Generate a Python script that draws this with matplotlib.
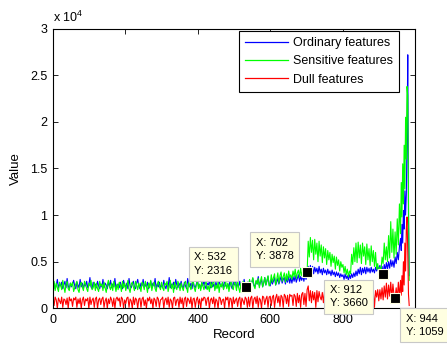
import numpy as np
import matplotlib
matplotlib.use("Agg")
import matplotlib.pyplot as plt
from matplotlib.ticker import FuncFormatter

plt.rcParams['font.family'] = ['Liberation Sans', 'DejaVu Sans']
plt.rcParams['mathtext.default'] = 'regular'

# record index: every 3rd record up to 957, then every 2nd record
records = list(range(0, 960, 3)) + list(range(960, 986, 2))

# values in units of 100 (rows of 60 records)
ordinary = (
    [23, 27, 21, 25, 31, 22, 26, 24, 28, 21, 25, 29, 22, 32, 24, 21, 27, 23, 26, 30]
    + [24, 21, 28, 25, 22, 31, 23, 27, 21, 26, 24, 29, 22, 25, 33, 23, 21, 28, 24, 26]
    + [22, 29, 24, 21, 26, 23, 31, 22, 27, 25, 21, 28, 24, 30, 22, 26, 23, 32, 21, 25]
    + [26, 22, 28, 24, 21, 30, 25, 23, 27, 21, 32, 24, 22, 26, 29, 23, 21, 27, 31, 24]
    + [21, 27, 24, 31, 22, 26, 23, 28, 21, 25, 29, 22, 27, 24, 32, 21, 26, 23, 28, 22]
    + [25, 22, 30, 24, 21, 27, 23, 33, 22, 26, 24, 28, 21, 31, 25, 22, 27, 24, 29, 23]
    + [22, 28, 24, 21, 32, 25, 23, 27, 21, 29, 24, 22, 26, 31, 23, 25, 21, 28, 24, 30]
    + [24, 21, 27, 25, 29, 22, 31, 23, 26, 21, 28, 24, 22, 30, 25, 23, 27, 21, 32, 24]
    + [23, 26, 22, 30, 24, 21, 28, 25, 33, 22, 26, 24, 29, 21, 27, 23, 31, 24, 22, 28]
    + [24, 30, 22, 27, 32, 25, 23, 29, 26, 34, 24, 28, 31, 23, 27, 33, 25, 29, 34, 26]
    + [24, 31, 26, 29, 33, 25, 28, 32, 26, 30, 34, 27, 31, 33, 26, 32, 28, 34, 27, 33]
    + [27, 34, 29, 35, 28, 32, 36, 29, 34, 30, 35, 29, 36, 31, 38, 45, 39, 46, 38, 45]
    + [37, 44, 39, 43, 37, 45, 38, 42, 36, 43, 38, 41, 36, 42, 37, 40, 35, 41, 36, 39]
    + [34, 39, 35, 38, 33, 37, 34, 36, 31, 37, 32, 35, 30, 36, 32, 37, 33, 38, 34, 40]
    + [35, 42, 37, 44, 36, 43, 38, 44, 37, 44, 39, 43, 38, 44, 39, 42, 38, 44, 40, 45]
    + [41, 46, 40, 45, 37, 47, 41, 49, 42, 50, 43, 52, 45, 51, 44, 55, 48, 60, 52, 66]
    + [75, 62, 90, 70, 105, 85, 126, 100, 122, 180, 272, 95, 35]
)
sensitive = (
    [24, 29, 19, 27, 22, 18, 28, 25, 20, 30, 23, 17, 26, 29, 21, 19, 27, 24, 28, 18]
    + [22, 26, 29, 20, 17, 25, 28, 23, 19, 29, 26, 21, 18, 27, 24, 30, 20, 22, 28, 19]
    + [27, 21, 18, 29, 24, 26, 19, 28, 22, 17, 25, 30, 23, 20, 27, 19, 29, 24, 18, 26]
    + [20, 28, 25, 18, 29, 22, 27, 19, 24, 30, 21, 17, 26, 28, 23, 19, 29, 25, 20, 27]
    + [23, 18, 28, 26, 20, 29, 24, 17, 27, 22, 30, 19, 25, 28, 21, 18, 26, 29, 23, 20]
    + [28, 22, 19, 27, 25, 29, 18, 24, 30, 21, 26, 17, 28, 23, 20, 29, 25, 19, 27, 22]
    + [19, 26, 29, 23, 17, 28, 24, 20, 27, 30, 22, 18, 25, 29, 21, 26, 19, 28, 24, 20]
    + [26, 29, 20, 24, 18, 28, 22, 27, 30, 19, 25, 21, 29, 17, 26, 23, 28, 20, 24, 29]
    + [21, 27, 18, 25, 29, 23, 20, 28, 26, 19, 30, 22, 17, 27, 24, 29, 21, 25, 19, 28]
    + [22, 31, 20, 28, 33, 24, 21, 30, 26, 32, 22, 29, 34, 23, 27, 33, 25, 30, 35, 24]
    + [26, 36, 28, 33, 37, 25, 31, 38, 27, 35, 39, 29, 34, 38, 28, 37, 30, 40, 33, 36]
    + [31, 40, 34, 42, 32, 38, 41, 33, 43, 35, 40, 34, 42, 36, 39, 72, 55, 76, 60, 73]
    + [52, 74, 58, 70, 50, 72, 56, 68, 49, 66, 54, 64, 47, 62, 52, 60, 45, 58, 49, 56]
    + [42, 55, 46, 52, 40, 50, 44, 47, 38, 45, 36, 42, 34, 40, 37, 58, 47, 65, 50, 70]
    + [49, 71, 54, 68, 48, 70, 56, 66, 47, 69, 52, 64, 46, 67, 50, 62, 45, 60, 42, 48]
    + [37, 44, 40, 55, 48, 70, 52, 66, 50, 78, 54, 93, 60, 85, 54, 82, 58, 96, 68, 112]
    + [80, 135, 98, 155, 112, 175, 128, 205, 160, 238, 228, 120, 30]
)
dull = (
    [10, 3, 12, 9, 0, 11, 8, 5, 12, 1, 10, 9, 4, 11, 0, 12, 8, 10, 2, 11]
    + [9, 12, 1, 10, 5, 11, 0, 9, 12, 3, 10, 8, 11, 0, 12, 4, 9, 11, 1, 10]
    + [12, 0, 9, 11, 4, 10, 12, 1, 8, 11, 0, 10, 5, 12, 9, 2, 11, 0, 10, 12]
    + [8, 11, 2, 12, 10, 0, 9, 5, 11, 12, 1, 10, 8, 0, 12, 4, 11, 9, 0, 10]
    + [11, 1, 10, 12, 3, 9, 0, 11, 8, 12, 5, 10, 0, 11, 9, 2, 12, 10, 1, 9]
    + [10, 12, 0, 9, 11, 4, 12, 1, 10, 8, 0, 11, 12, 3, 9, 10, 1, 12, 5, 11]
    + [0, 10, 12, 2, 11, 9, 5, 12, 0, 10, 11, 1, 9, 12, 4, 10, 0, 11, 8, 12]
    + [11, 3, 10, 12, 0, 9, 11, 5, 12, 1, 10, 8, 0, 12, 11, 4, 9, 10, 0, 12]
    + [9, 12, 1, 11, 10, 0, 12, 5, 9, 11, 2, 10, 12, 0, 11, 8, 4, 12, 10, 1]
    + [12, 2, 11, 13, 0, 10, 12, 5, 13, 1, 11, 9, 0, 13, 12, 4, 10, 13, 1, 12]
    + [13, 3, 12, 14, 1, 11, 15, 6, 13, 2, 14, 12, 1, 15, 13, 5, 14, 2, 15, 13]
    + [14, 3, 15, 13, 2, 16, 6, 14, 1, 15, 17, 4, 16, 2, 20, 24, 8, 19, 6, 18]
    + [9, 17, 1, 19, 7, 18, 12, 9, 17, 6, 18, 14, 8, 17, 5, 19, 11, 7, 18, 10]
    + [17, 6, 18, 13, 9, 19, 1, 16, 8, 18, 12, 7, 17, 5, 19, 14, 8, 18, 6, 17]
    + [12, 18, 7, 19, 5, 17, 13, 8, 19, 6, 18, 14, 7, 20, 9, 17, 1, 19, 12, 20]
    + [8, 20, 10, 22, 9, 24, 12, 27, 10, 25, 13, 28, 11, 26, 14, 11, 22, 10, 28, 12]
    + [30, 14, 35, 18, 50, 25, 70, 40, 85, 98, 60, 15, 3]
)

# data tips shown on the chart
tip_x = [532, 702, 912, 944]
tip_y = [2316, 3878, 3660, 1059]

fig = plt.figure(figsize=(4.47, 3.47), dpi=100)
ax = fig.add_axes([53 / 447, 1 - 308.3 / 347, (415 - 53) / 447, (308.3 - 28.7) / 347])

ax.plot(records, np.array(ordinary) * 100, color=(0, 0, 1), lw=0.8, label='Ordinary features')
ax.plot(records, np.array(sensitive) * 100, color=(0, 1, 0), lw=0.8, label='Sensitive features')
ax.plot(records, np.array(dull) * 100, color=(1, 0, 0), lw=0.8, label='Dull features')

ax.set_xlim(0, 1000)
ax.set_ylim(0, 30000)
ax.set_xticks(range(0, 1001, 200))
ax.set_xticklabels(['0', '200', '400', '600', '800', ''])
ax.set_yticks(range(0, 30001, 5000))
ax.yaxis.set_major_formatter(FuncFormatter(lambda v, p: f'{v / 1e4:g}'))
ax.tick_params(direction='in', top=True, right=True, length=3.5, width=0.6, labelsize=9, pad=4)
for s in ax.spines.values():
    s.set_linewidth(0.8)

ax.text(0.0, 1.012, r'x 10$^{4}$', transform=ax.transAxes, fontsize=9, ha='left', va='bottom')
ax.set_xlabel('Record', fontsize=9.5, labelpad=2)
ax.set_ylabel('Value', fontsize=9.5, labelpad=6)

leg = ax.legend(loc='upper right', bbox_to_anchor=(0.956, 0.992), fontsize=9, handlelength=3.4,
                handletextpad=0.4, fancybox=False, framealpha=1, edgecolor='black',
                borderaxespad=0, labelspacing=0.5, borderpad=0.5)
leg.get_frame().set_linewidth(0.8)
for h in leg.get_lines():
    h.set_linewidth(0.9)

# data tip boxes: offsets (points) and alignment per tip
offsets = [(-9.5, 8), (-9.5, 8), (-11, -8), (8, -11)]
aligns = [('right', 'bottom'), ('right', 'bottom'), ('right', 'top'), ('left', 'top')]
for x, y, off, (ha, va) in zip(tip_x, tip_y, offsets, aligns):
    ax.plot(x, y, 's', ms=6.5, mfc='black', mec='#ffffe1', mew=0.8, zorder=6, clip_on=False)
    ax.annotate(f'X: {x}\nY: {y}', xy=(x, y), xytext=off, textcoords='offset points',
                ha=ha, va=va, multialignment='left', fontsize=8, linespacing=1.4, zorder=7,
                annotation_clip=False,
                bbox=dict(boxstyle='square,pad=0.5', fc='#ffffe1', ec='#c8c8c8', lw=0.8))

fig.savefig('out.png', dpi=100)
